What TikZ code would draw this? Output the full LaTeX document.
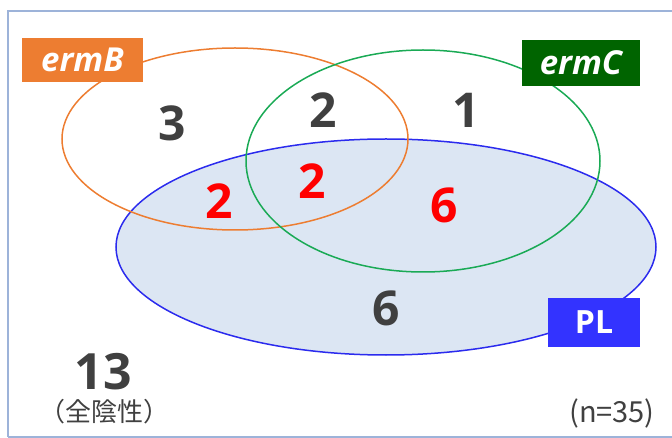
\documentclass[tikz,border=0pt]{standalone}
\usepackage{fontspec}
\setmainfont{Open Sans}
\newfontfamily\jpfont{Noto Sans CJK JP}
\definecolor{framec}{HTML}{9DB3D9}
\definecolor{orangec}{HTML}{ED7D31}
\definecolor{greenc}{HTML}{1AAA55}
\definecolor{dgreen}{HTML}{006400}
\definecolor{bluec}{HTML}{2B2BEE}
\definecolor{bluefill}{HTML}{DCE6F3}
\definecolor{plblue}{HTML}{3333FF}
\definecolor{numgray}{HTML}{404040}
\definecolor{numred}{HTML}{FF0000}
\begin{document}
\begin{tikzpicture}[x=1pt,y=-1pt,
  labelbox/.style={inner sep=0pt, minimum height=44pt, text=white, font=\fontsize{33}{36}\selectfont\bfseries\itshape},
  num/.style={text=numgray, font=\fontsize{48}{50}\selectfont\bfseries, inner sep=0pt},
  rnum/.style={text=numred, font=\fontsize{48}{50}\selectfont\bfseries, inner sep=0pt}]
\useasboundingbox (0,0) rectangle (672,438);
\draw[framec, line width=1.2pt] (8,437) -- (8,11) -- (675,11);
\draw[framec, line width=1.2pt] (8,437) -- (675,437);
% ellipses
\draw[bluec, fill=bluefill, line width=1.5pt] (386,247) ellipse [x radius=270, y radius=108];
\draw[orangec, line width=1.5pt] (235,139) ellipse [x radius=173, y radius=91];
\draw[greenc, line width=1.5pt] (423,161) ellipse [x radius=177, y radius=111];
% label boxes
\node[labelbox, fill=orangec, minimum width=121pt] (ermB) at (82.5,60) {ermB};
\node[labelbox, fill=dgreen, minimum width=118pt, minimum height=46pt] (ermC) at (581,63) {ermC};
\node[labelbox, fill=plblue, minimum width=92pt, minimum height=49pt, font=\fontsize{32}{34}\selectfont\bfseries] (PL) at (594,322.5) {PL};
% numbers
\node[num] (n3) at (172,123) {3};
\node[num] (n2a) at (323,110) {2};
\node[num] (n1) at (466,110) {1};
\node[rnum] (r2a) at (219,201) {2};
\node[rnum] (r2b) at (312,181) {2};
\node[rnum] (r6) at (444,205) {6};
\node[num] (n6) at (386,308) {6};
\node[num, font=\fontsize{50}{52}\selectfont\bfseries] (n13) at (103,372) {13};
\node[text=numgray, inner sep=0pt, font=\jpfont\fontsize{26}{28}\selectfont] (neg) at (104,412) {（全陰性）};
\node[text=numgray, inner sep=0pt, font=\jpfont\fontsize{29}{30}\selectfont] (nn) at (612,413) {(n=35)};
\end{tikzpicture}
\end{document}
